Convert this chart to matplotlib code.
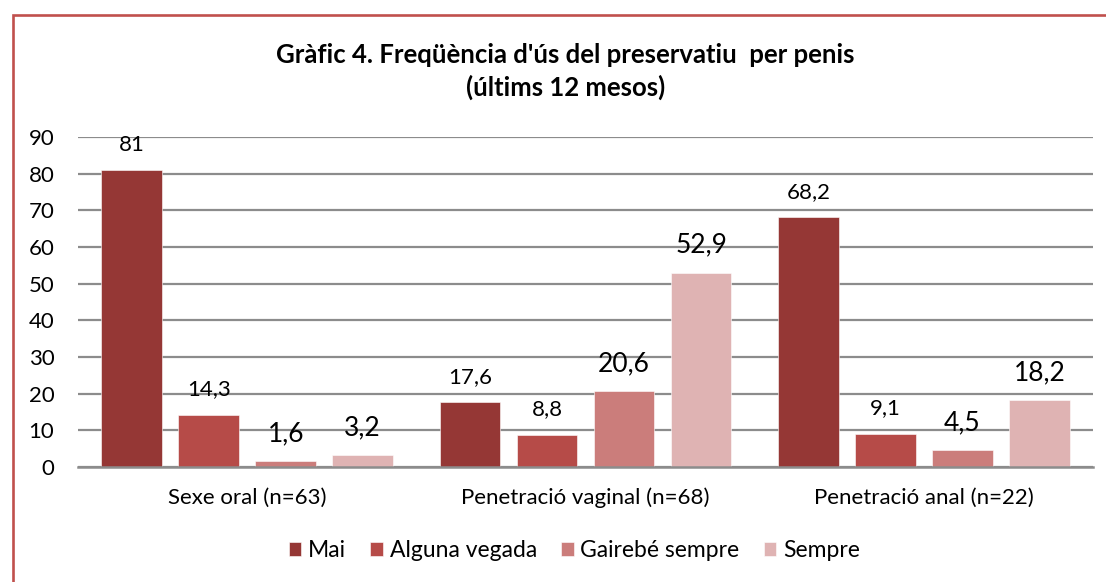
import matplotlib.pyplot as plt
import numpy as np
from matplotlib.patches import Rectangle

# datos del grafico
categorias = ["Sexe oral (n=63)", "Penetració vaginal (n=68)", "Penetració anal (n=22)"]
series = ["Mai", "Alguna vegada", "Gairebé sempre", "Sempre"]
mai = [81, 17.6, 68.2]
alguna = [14.3, 8.8, 9.1]
gairebe = [1.6, 20.6, 4.5]
sempre = [3.2, 52.9, 18.2]
yticks = [0, 10, 20, 30, 40, 50, 60, 70, 80, 90]

# estilo
colores = ["#953735", "#B64B48", "#CB7D7B", "#DFB3B3"]
# en el original las etiquetas de las dos ultimas series salen mas grandes
mida_etiquetas = [16, 16, 19, 19]

plt.rcParams["font.family"] = ["Lato", "DejaVu Sans"]

fig = plt.figure(figsize=(11.06, 5.82), dpi=100)
ax = fig.add_axes([0.0705, 0.1976, 0.9178, 0.567])

x = np.arange(len(categorias))
ancho = 0.18
paso = 0.2276
valores = [mai, alguna, gairebe, sempre]

for i, (nombre, vals) in enumerate(zip(series, valores)):
    pos = x + (i - 1.5) * paso
    barras = ax.bar(pos, vals, ancho, color=colores[i], label=nombre, zorder=3,
                    edgecolor="white", linewidth=0.4)
    etiquetas = [f"{v:g}".replace(".", ",") for v in vals]
    ax.bar_label(barras, labels=etiquetas, padding=11, fontsize=mida_etiquetas[i], zorder=4)

ax.set_xlim(-0.5, 2.5)
ax.set_ylim(0, 90)
ax.set_yticks(yticks)
ax.set_xticks(x)
ax.set_xticklabels(categorias)
ax.tick_params(axis="y", length=0, labelsize=16, pad=17)
ax.tick_params(axis="x", length=0, labelsize=16, pad=15)
ax.yaxis.grid(True, color="#8C8C8C", linewidth=1.6, zorder=0)
for lado in ["left", "right", "top"]:
    ax.spines[lado].set_visible(False)
ax.spines["bottom"].set_color("#8C8C8C")
ax.spines["bottom"].set_linewidth(1.8)
ax.spines["bottom"].set_zorder(3)

fig.text(0.511, 0.877, "Gràfic 4. Freqüència d'ús del preservatiu  per penis\n(últims 12 mesos)",
         ha="center", va="center", fontsize=18.5, fontweight="bold", linespacing=1.35)

ax.legend(loc="center", bbox_to_anchor=(0.489, -0.2545), ncol=4, frameon=False,
          fontsize=16.5, handlelength=0.55, handleheight=0.55, handletextpad=0.3,
          columnspacing=1.05)

# marco rojo del grafico
fig.patches.append(Rectangle((13 / 1106, -0.1), 1.2, 1.1 - 15 / 582, transform=fig.transFigure,
                             fill=False, edgecolor="#C0504D", linewidth=1.9))

fig.savefig("out.png", dpi=100)
